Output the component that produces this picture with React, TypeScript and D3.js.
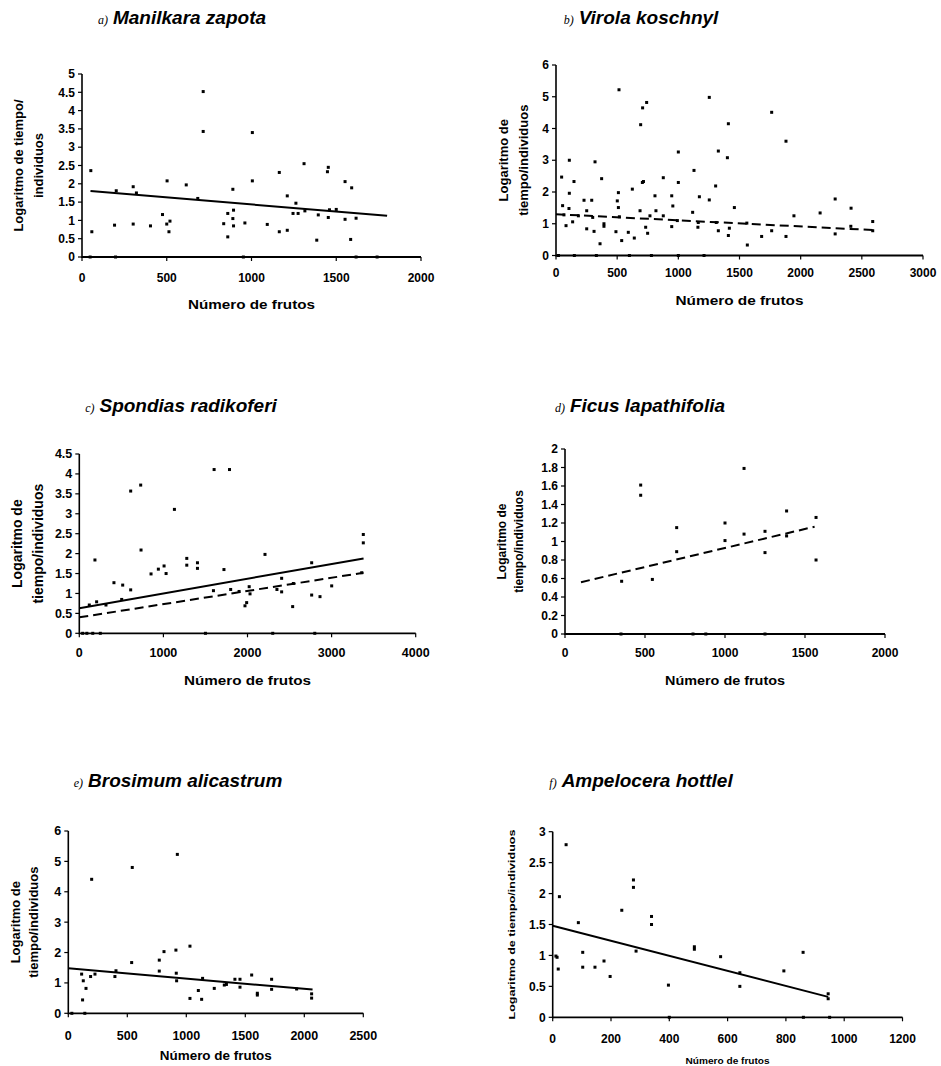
import React from 'react';
import * as d3 from 'd3';

// ---------- DATA ----------
const aX = [52, 58, 202, 192, 302, 302, 321, 404, 502, 475, 500, 519, 513, 615, 683, 715, 715, 836, 860, 860, 890, 894, 890, 894, 961, 1005, 1005, 1093, 1164, 1164, 1211, 1211, 1262, 1245, 1275, 1310, 1315, 1385, 1394, 1453, 1448, 1453, 1460, 1500, 1552, 1591, 1552, 1617, 1585, 48, 198, 952, 1617, 1741];
const aY = [2.36, 0.69, 1.81, 0.87, 1.92, 0.9, 1.75, 0.85, 2.08, 1.16, 0.9, 0.98, 0.69, 1.97, 1.6, 4.52, 3.43, 0.91, 1.19, 0.55, 1.85, 1.28, 1.05, 0.85, 0.93, 3.4, 2.08, 0.89, 2.31, 0.69, 1.67, 0.73, 1.47, 1.19, 1.19, 2.55, 1.26, 0.46, 1.15, 2.45, 2.33, 1.08, 1.29, 1.3, 2.06, 1.89, 1.03, 1.06, 0.48, 0, 0, 0, 0, 0];
const aLineX = [50, 1800];
const aLineY = [1.8, 1.13];

const bX = [46, 54, 65, 82, 109, 109, 106, 136, 147, 183, 229, 251, 251, 292, 319, 311, 300, 360, 373, 392, 392, 490, 501, 515, 510, 510, 518, 537, 591, 624, 640, 687, 692, 708, 741, 706, 715, 733, 749, 768, 809, 817, 877, 877, 946, 955, 946, 1000, 1000, 992, 1117, 1128, 1163, 1172, 1160, 1253, 1253, 1305, 1327, 1327, 1310, 1409, 1401, 1409, 1417, 1458, 1564, 1560, 1681, 1763, 1763, 1880, 1880, 1945, 2159, 2282, 2412, 2589, 2589, 2410, 2282, 20, 150, 330, 600, 780, 1000, 1210];
const bY = [2.47, 1.57, 1.28, 0.94, 3.0, 1.96, 1.48, 1.06, 2.33, 1.25, 1.74, 1.41, 0.84, 1.74, 2.95, 0.76, 1.2, 0.37, 2.42, 1.0, 0.92, 0.75, 1.72, 5.22, 1.98, 1.51, 1.22, 0.47, 0.73, 2.09, 0.55, 1.41, 4.12, 4.65, 4.82, 2.3, 2.33, 0.89, 0.7, 1.25, 1.88, 1.41, 2.45, 1.25, 1.88, 1.56, 0.91, 3.26, 2.3, 1.1, 1.36, 2.68, 1.04, 1.85, 0.89, 4.98, 1.75, 2.19, 3.29, 0.78, 1.04, 4.15, 3.08, 0.63, 0.86, 1.51, 0.33, 1.02, 0.6, 4.51, 0.78, 3.6, 0.6, 1.25, 1.34, 1.78, 1.49, 1.07, 0.78, 0.92, 0.68, 0, 0, 0, 0, 0, 0, 0];
const bDashX = [0, 2600];
const bDashY = [1.3, 0.8];

const cX = [186, 119, 206, 317, 412, 516, 504, 611, 611, 730, 734, 853, 940, 1008, 1032, 1131, 1278, 1278, 1405, 1405, 1603, 1786, 1720, 1595, 1800, 1900, 1970, 1990, 2020, 2030, 2208, 2350, 2406, 2406, 2537, 2545, 2763, 2763, 2862, 3001, 3377, 3377, 3358, 40, 90, 160, 250, 1500, 2300, 2800];
const cY = [1.84, 0.71, 0.79, 0.71, 1.27, 1.21, 0.85, 1.09, 3.57, 3.72, 2.09, 1.49, 1.61, 1.69, 1.5, 3.11, 1.88, 1.71, 1.77, 1.63, 4.11, 4.11, 1.6, 1.07, 1.1, 1.05, 0.69, 0.77, 1.17, 0.99, 1.98, 1.1, 1.38, 1.04, 0.67, 1.25, 1.77, 0.96, 0.92, 1.19, 2.48, 2.27, 1.52, 0, 0, 0, 0, 0, 0, 0];
const cLineX = [0, 3380];
const cLineY = [0.63, 1.88];
const cDashX = [0, 3380];
const cDashY = [0.4, 1.52];

const dX = [354, 473, 473, 546, 698, 698, 1000, 1000, 1119, 1119, 1250, 1250, 1385, 1385, 1569, 1569, 350, 800, 880, 1250];
const dY = [0.57, 1.61, 1.5, 0.59, 1.15, 0.89, 1.2, 1.01, 1.79, 1.08, 1.11, 0.88, 1.33, 1.06, 1.26, 0.8, 0, 0, 0, 0];
const dDashX = [100, 1560];
const dDashY = [0.56, 1.16];

const eX = [113, 127, 121, 150, 198, 189, 226, 395, 404, 537, 542, 771, 771, 811, 912, 924, 915, 918, 1031, 1031, 1102, 1130, 1138, 1237, 1322, 1340, 1412, 1455, 1455, 1554, 1602, 1602, 1723, 1723, 1935, 2062, 2062, 30, 140];
const eY = [1.29, 1.07, 0.44, 0.82, 4.41, 1.21, 1.29, 1.21, 1.4, 1.67, 4.8, 1.75, 1.39, 2.03, 2.08, 5.23, 1.32, 1.07, 2.21, 0.49, 0.75, 0.46, 1.15, 0.82, 0.93, 0.95, 1.12, 1.12, 0.86, 1.26, 0.66, 0.6, 1.12, 0.79, 0.8, 0.64, 0.5, 0, 0];
const eLineX = [0, 2070];
const eLineY = [1.48, 0.78];

const fX = [11, 15, 19, 23, 46, 88, 103, 103, 145, 176, 197, 237, 277, 277, 286, 339, 339, 397, 486, 486, 576, 642, 642, 793, 859, 945, 945, 400, 860, 950];
const fY = [0.99, 0.97, 0.78, 1.95, 2.79, 1.53, 1.05, 0.81, 0.81, 0.91, 0.66, 1.73, 2.22, 2.1, 1.07, 1.63, 1.5, 0.52, 1.14, 1.1, 0.98, 0.72, 0.5, 0.75, 1.05, 0.38, 0.3, 0, 0, 0];
const fLineX = [0, 945];
const fLineY = [1.48, 0.33];

const aXTicks = [0, 500, 1000, 1500, 2000];
const aYTicks = [0, 0.5, 1, 1.5, 2, 2.5, 3, 3.5, 4, 4.5, 5];
const bXTicks = [0, 500, 1000, 1500, 2000, 2500, 3000];
const bYTicks = [0, 1, 2, 3, 4, 5, 6];
const cXTicks = [0, 1000, 2000, 3000, 4000];
const cYTicks = [0, 0.5, 1, 1.5, 2, 2.5, 3, 3.5, 4, 4.5];
const dXTicks = [0, 500, 1000, 1500, 2000];
const dYTicks = [0, 0.2, 0.4, 0.6, 0.8, 1, 1.2, 1.4, 1.6, 1.8, 2];
const eXTicks = [0, 500, 1000, 1500, 2000, 2500];
const eYTicks = [0, 1, 2, 3, 4, 5, 6];
const fXTicks = [0, 200, 400, 600, 800, 1000, 1200];
const fYTicks = [0, 0.5, 1, 1.5, 2, 2.5, 3];

const titlePrefixes = ['a)', 'b)', 'c)', 'd)', 'e)', 'f)'];
const titleNames = ['Manilkara zapota', 'Virola koschnyl', 'Spondias radikoferi', 'Ficus lapathifolia', 'Brosimum alicastrum', 'Ampelocera hottlel'];
const xTitle = 'Número de frutos';

const SANS = "'Liberation Sans', Arial, Helvetica, sans-serif";
const SERIF = "'Liberation Serif', 'Times New Roman', serif";

type PanelProps = {
  xs: number[]; ys: number[];
  solid?: [number[], number[]]; dashed?: [number[], number[]];
  xTicks: number[]; yTicks: number[];
  xRange: [number, number]; yRange: [number, number];
  xLabelOff: number; xTitleY: number; xTitleLen: number; xTitleSize: number;
  yTitleLines: string[]; yTitleX: number[]; yTitleSize: number; yTitleLen?: number;
  prefix: string; name: string; titleX: number; titleY: number;
  tickSize: number;
};

function Panel(p: PanelProps) {
  const x = d3.scaleLinear().domain([p.xTicks[0], p.xTicks[p.xTicks.length - 1]]).range(p.xRange);
  const y = d3.scaleLinear().domain([p.yTicks[0], p.yTicks[p.yTicks.length - 1]]).range(p.yRange);
  const line = d3.line<[number, number]>().x(d => x(d[0])).y(d => y(d[1]));
  const x0 = p.xRange[0];
  const y0 = p.yRange[0];
  const yc = (p.yRange[0] + p.yRange[1]) / 2;
  const xc = (p.xRange[0] + p.xRange[1]) / 2;
  const fmt = (v: number) => String(+v.toFixed(2));
  return (
    <g>
      <text x={p.titleX} y={p.titleY} textAnchor="middle">
        <tspan fontFamily={SERIF} fontStyle="italic" fontSize={12}>{p.prefix}</tspan>
        <tspan fontFamily={SANS} fontStyle="italic" fontWeight="bold" fontSize={19} dx={5}>{p.name}</tspan>
      </text>
      <line x1={x0} x2={x0} y1={y0 + 1} y2={p.yRange[1]} stroke="#000" strokeWidth={1.6} />
      <line x1={x0} x2={p.xRange[1]} y1={y0} y2={y0} stroke="#000" strokeWidth={1.8} />
      {p.yTicks.map(t => (
        <g key={'yt' + t}>
          <line x1={x0 - 4} x2={x0} y1={y(t)} y2={y(t)} stroke="#000" strokeWidth={1.2} />
          <text x={x0 - 7} y={y(t)} dy="0.35em" textAnchor="end" fontFamily={SANS} fontWeight="bold" fontSize={p.tickSize}>{fmt(t)}</text>
        </g>
      ))}
      {p.xTicks.map(t => (
        <g key={'xt' + t}>
          <line x1={x(t)} x2={x(t)} y1={y0} y2={y0 + 4} stroke="#000" strokeWidth={1.2} />
          <text x={x(t)} y={y0 + p.xLabelOff} dy="0.35em" textAnchor="middle" fontFamily={SANS} fontWeight="bold" fontSize={p.tickSize}>{fmt(t)}</text>
        </g>
      ))}
      <text x={xc} y={p.xTitleY} dy="0.35em" textAnchor="middle" fontFamily={SANS} fontWeight="bold" fontSize={p.xTitleSize} textLength={p.xTitleLen} lengthAdjust="spacingAndGlyphs">{xTitle}</text>
      {p.yTitleLines.map((l, i) => (
        <text key={'ytl' + i} transform={`translate(${p.yTitleX[i]},${yc}) rotate(-90)`} textAnchor="middle" fontFamily={SANS} fontWeight="bold" fontSize={p.yTitleSize}
          textLength={p.yTitleLen} lengthAdjust={p.yTitleLen ? 'spacingAndGlyphs' : undefined}>{l}</text>
      ))}
      {p.xs.map((v, i) => (
        <rect key={'pt' + i} x={x(v) - 1.5} y={y(p.ys[i]) - 1.5} width={3} height={3} fill="#000" />
      ))}
      {p.solid && (
        <path d={line(p.solid[0].map((v, i) => [v, p.solid![1][i]] as [number, number])) || ''} stroke="#000" strokeWidth={2} fill="none" />
      )}
      {p.dashed && (
        <path d={line(p.dashed[0].map((v, i) => [v, p.dashed![1][i]] as [number, number])) || ''} stroke="#000" strokeWidth={2} fill="none" strokeDasharray="9,5" />
      )}
    </g>
  );
}

export default function App() {
  return (
    <svg width={941} height={1066} viewBox="0 0 941 1066" style={{ position: 'absolute', left: 0, top: 0, display: 'block', background: '#fff' }}>
      <rect x={0} y={0} width={941} height={1066} fill="#fff" />
      <Panel xs={aX} ys={aY} solid={[aLineX, aLineY]} xTicks={aXTicks} yTicks={aYTicks}
        xRange={[82, 421]} yRange={[257, 74]} xLabelOff={21} xTitleY={304} xTitleLen={127} xTitleSize={13}
        yTitleLines={['Logaritmo de tiempo/', 'individuos']} yTitleX={[23, 43]} yTitleSize={13}
        prefix={titlePrefixes[0]} name={titleNames[0]} titleX={182} titleY={24} tickSize={12} />
      <Panel xs={bX} ys={bY} dashed={[bDashX, bDashY]} xTicks={bXTicks} yTicks={bYTicks}
        xRange={[556, 923]} yRange={[255.5, 65]} xLabelOff={17} xTitleY={300} xTitleLen={128} xTitleSize={13}
        yTitleLines={['Logaritmo de', 'tiempo/individuos']} yTitleX={[508, 528]} yTitleSize={13}
        prefix={titlePrefixes[1]} name={titleNames[1]} titleX={641} titleY={24} tickSize={12} />
      <Panel xs={cX} ys={cY} solid={[cLineX, cLineY]} dashed={[cDashX, cDashY]} xTicks={cXTicks} yTicks={cYTicks}
        xRange={[79.3, 415.7]} yRange={[633.3, 454]} xLabelOff={19} xTitleY={680} xTitleLen={127} xTitleSize={13}
        yTitleLines={['Logaritmo de', 'tiempo/individuos']} yTitleX={[22, 43]} yTitleSize={14}
        prefix={titlePrefixes[2]} name={titleNames[2]} titleX={181} titleY={412} tickSize={12.5} />
      <Panel xs={dX} ys={dY} dashed={[dDashX, dDashY]} xTicks={dXTicks} yTicks={dYTicks}
        xRange={[565, 885]} yRange={[634, 449]} xLabelOff={19} xTitleY={680} xTitleLen={120} xTitleSize={13}
        yTitleLines={['Logaritmo de', 'tiempo/individuos']} yTitleX={[506, 523]} yTitleSize={12}
        prefix={titlePrefixes[3]} name={titleNames[3]} titleX={640} titleY={412} tickSize={12} />
      <Panel xs={eX} ys={eY} solid={[eLineX, eLineY]} xTicks={eXTicks} yTicks={eYTicks}
        xRange={[68.3, 363.3]} yRange={[1013.3, 831]} xLabelOff={22} xTitleY={1056} xTitleLen={112} xTitleSize={12}
        yTitleLines={['Logaritmo de', 'tiempo/individuos']} yTitleX={[20, 38]} yTitleSize={13}
        prefix={titlePrefixes[4]} name={titleNames[4]} titleX={178} titleY={787} tickSize={12.5} />
      <Panel xs={fX} ys={fY} solid={[fLineX, fLineY]} xTicks={fXTicks} yTicks={fYTicks}
        xRange={[552.7, 902.5]} yRange={[1017.3, 831.7]} xLabelOff={21} xTitleY={1061} xTitleLen={84} xTitleSize={9}
        yTitleLines={['Logaritmo de tiempo/individuos']} yTitleX={[515]} yTitleSize={9} yTitleLen={190}
        prefix={titlePrefixes[5]} name={titleNames[5]} titleX={641} titleY={787} tickSize={12} />
    </svg>
  );
}
